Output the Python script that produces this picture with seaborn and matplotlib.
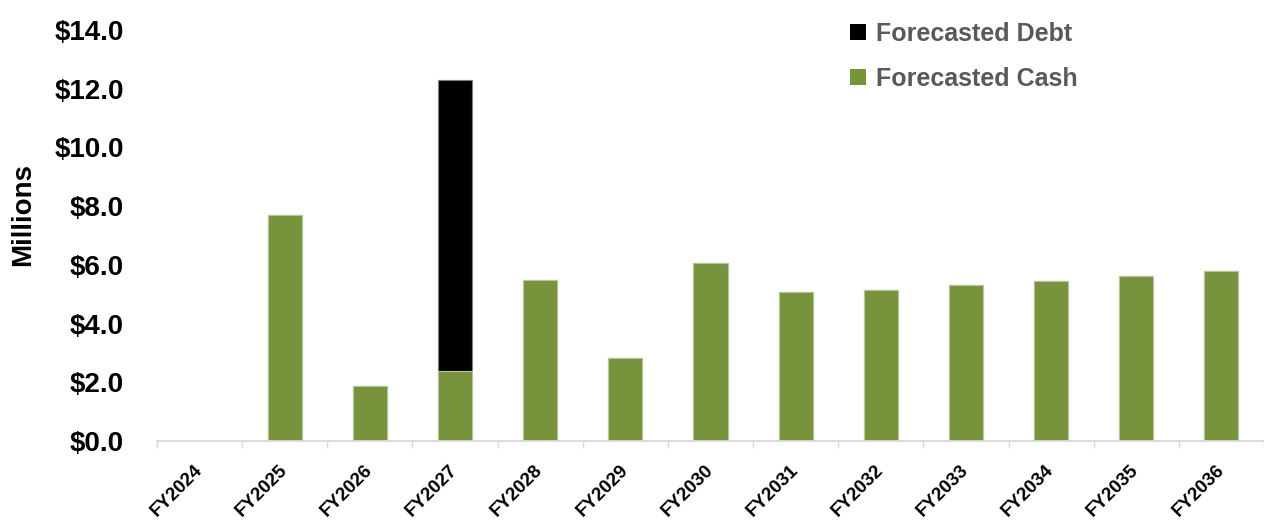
import matplotlib
matplotlib.use("Agg")
import matplotlib.pyplot as plt
from matplotlib.patches import Patch
from matplotlib.ticker import FixedLocator, FuncFormatter
import numpy as np
import pandas as pd
import seaborn as sns

# Fiscal years and forecast values (USD millions)
years = ["FY2024", "FY2025", "FY2026", "FY2027", "FY2028", "FY2029", "FY2030",
         "FY2031", "FY2032", "FY2033", "FY2034", "FY2035", "FY2036"]
forecasted_cash = [0.0, 7.70, 1.87, 2.39, 5.47, 2.82, 6.05,
                   5.06, 5.14, 5.30, 5.46, 5.63, 5.79]
forecasted_debt = [0.0, 0.0, 0.0, 9.91, 0.0, 0.0, 0.0,
                   0.0, 0.0, 0.0, 0.0, 0.0, 0.0]
y_ticks = [0, 2, 4, 6, 8, 10, 12, 14]

CASH_COLOR = "#77933C"
DEBT_COLOR = "#000000"
AXIS_GRAY = "#D9D9D9"
LEGEND_GRAY = "#595959"

sns.set_theme(style="white")
plt.rcParams["font.family"] = ["Liberation Sans", "DejaVu Sans"]
plt.rcParams["font.weight"] = "bold"

df = pd.DataFrame({
    "year": years,
    "cash": forecasted_cash,
    "debt": forecasted_debt,
})
df["total"] = df["cash"] + df["debt"]

W, H = 1264, 521
fig = plt.figure(figsize=(W / 100, H / 100), dpi=100)
ax = fig.add_axes([157 / W, 80 / H, 1107 / W, 411 / H])

# Stacked bars: full stack (debt on top) drawn first, cash drawn over its base
sns.barplot(data=df, x="year", y="total", color=DEBT_COLOR, width=0.4,
            edgecolor="#7F7F7F", linewidth=0.8, ax=ax, saturation=1)
sns.barplot(data=df, x="year", y="cash", color=CASH_COLOR, width=0.4,
            edgecolor="#B5C99A", linewidth=0.8, ax=ax, saturation=1)

ax.set_xlim(-0.5, len(years) - 0.5)
ax.set_ylim(0, 14)
ax.set_yticks(y_ticks)
ax.yaxis.set_major_formatter(FuncFormatter(lambda v, _: f"${v:.1f}"))
ax.tick_params(axis="y", length=0, pad=24, labelsize=20)
for lbl in ax.get_yticklabels():
    lbl.set_fontweight("bold")
    lbl.set_color("black")

ax.set_xlabel("")
ax.set_ylabel("")
fig.text(23.5 / W, 1 - 215 / H, "Millions", rotation=90, ha="center", va="center",
         fontsize=20, fontweight="bold", color="black")

# Category labels at centres, tick marks on category boundaries
ax.xaxis.set_minor_locator(FixedLocator(np.arange(-0.5, len(years), 1.0)))
ax.tick_params(axis="x", which="minor", length=5, width=1.0, color=AXIS_GRAY,
               direction="out", bottom=True)
ax.tick_params(axis="x", which="major", length=0, pad=19, labelsize=13.5)
for lbl in ax.get_xticklabels():
    lbl.set_rotation(45)
    lbl.set_ha("right")
    lbl.set_va("center")
    lbl.set_rotation_mode("anchor")
    lbl.set_fontweight("bold")
    lbl.set_color("black")

for side in ["top", "right", "left"]:
    ax.spines[side].set_visible(False)
ax.spines["bottom"].set_color(AXIS_GRAY)
ax.spines["bottom"].set_linewidth(1.3)
ax.grid(False)

handles = [Patch(facecolor=DEBT_COLOR, edgecolor="none", label="Forecasted Debt"),
           Patch(facecolor=CASH_COLOR, edgecolor="none", label="Forecasted Cash")]
leg = fig.legend(handles=handles, loc="upper left",
                 bbox_to_anchor=(850 / W, 1 - 22 / H),
                 frameon=False, borderpad=0, borderaxespad=0,
                 handlelength=0.64, handleheight=0.64, handletextpad=0.4,
                 labelspacing=0.84, prop={"size": 18, "weight": "bold"})
for t in leg.get_texts():
    t.set_color(LEGEND_GRAY)

fig.savefig("out.png", dpi=100)
